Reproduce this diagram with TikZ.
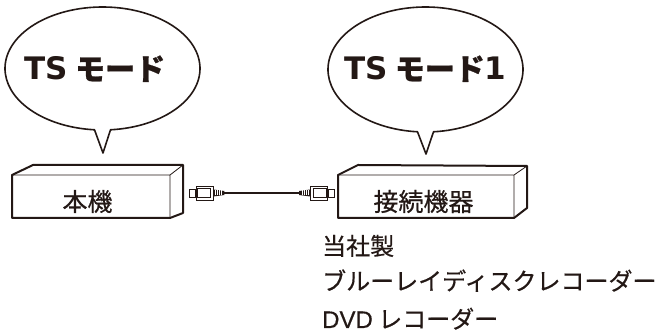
\documentclass[tikz,border=0pt]{standalone}
\usepackage{fontspec}
\setmainfont{Noto Sans CJK JP}
\newfontfamily\latinfont{Liberation Sans}[FakeBold=0.4]
\newfontfamily\heavyfont{DejaVu Sans}
\usepackage{tikz}
\usetikzlibrary{positioning,calc}
\definecolor{ink}{HTML}{231815}

\begin{document}
\begin{tikzpicture}[
    x=1pt, y=1pt,
    every node/.style={text=ink, inner sep=0pt},
    bubble/.style={draw=ink, line width=1.6pt, fill=white, line join=round},
    bubtext/.style={font=\fontsize{30}{36}\selectfont\bfseries\addfontfeature{FakeBold=0.8}, anchor=base},
    outline/.style={draw=ink, line width=2pt, line join=round},
    edge/.style={draw=ink, line width=0.8pt},
    label/.style={font=\fontsize{25}{30}\selectfont\addfontfeature{FakeBold=0.6}},
    note/.style={font=\fontsize{24}{30}\selectfont\addfontfeature{FakeBold=0.5}, anchor=base west},
    plug/.style={draw=ink, line width=0.9pt, fill=white, rectangle, minimum width=17pt, minimum height=14pt},
    stub/.style={draw=ink, line width=0.9pt, fill=white, rectangle, minimum width=6pt, minimum height=8pt},
    cable/.style={draw=ink, line width=1.6pt}
  ]
    \fill[white] (0,0) rectangle (665,334);
    \useasboundingbox (0,0) rectangle (665,334);

    % Speech bubbles
    \draw[bubble] (103,181) -- ($(102.5,265.5)+(274.71:97.5 and 61.5)$)
      arc[start angle=274.71, end angle=625.29, x radius=97.5, y radius=61.5] -- cycle;
    \draw[bubble] (426,180) -- ($(425.5,264.5)+(274.71:97.5 and 62.5)$)
      arc[start angle=274.71, end angle=625.29, x radius=97.5, y radius=62.5] -- cycle;
    \node[bubtext] (modeA) at (95,254) {{\heavyfont\bfseries\fontsize{31}{36}\selectfont TS} モード};
    \node[bubtext] (modeB) at (425.5,254) {{\heavyfont\bfseries\fontsize{31}{36}\selectfont TS} モード{\heavyfont\bfseries\fontsize{31}{36}\selectfont 1}};

    % Main unit (box drawn in perspective)
    \draw[outline] (12,116) -- (12,159) -- (33,169) -- (183,169) -- (183,121) -- (170,116) -- cycle;
    \draw[edge] (12,159) -- (170,159) -- (183,169) (170,159) -- (170,116);
    \node[label] (main) at (87.5,132.5) {本機};

    % Connected device
    \draw[outline] (338,116) -- (338,159) -- (358,169) -- (527,168) -- (527,126) -- (514,116) -- cycle;
    \draw[edge] (338,159) -- (514,159) -- (527,168) (514,159) -- (514,116);
    \node[label] (device) at (423.5,132.5) {接続機器};

    % Cable with plugs
    \node[plug] (plugL) at (204.5,141) {};
    \node[stub, left=0pt of plugL] (stubL) {};
    \node[plug] (plugR) at (319,141) {};
    \node[stub, right=0pt of plugR] (stubR) {};
    \draw[ink, line width=0.7pt] ([shift={(2pt,3pt)}]plugL.south west) rectangle ([shift={(-3pt,-3pt)}]plugL.north east);
    \draw[ink, line width=0.7pt] ([shift={(3pt,3pt)}]plugR.south west) rectangle ([shift={(-2pt,-3pt)}]plugR.north east);
    \coordinate (bootL) at ([xshift=11pt]plugL.east);
    \coordinate (bootR) at ([xshift=-11pt]plugR.west);
    \fill[ink] (plugL.east) ++(0,3.5) -- ([yshift=2pt]bootL) -- ([yshift=-2pt]bootL) -- ++(-11,-1.5) -- cycle;
    \fill[ink] (plugR.west) ++(0,3.5) -- ([yshift=2pt]bootR) -- ([yshift=-2pt]bootR) -- ++(11,-1.5) -- cycle;
    \foreach \i in {2,4,6,8} {
      \draw[white, line width=0.5pt] ([xshift=\i pt]plugL.east) ++(0,-2.5) -- ++(0,5);
      \draw[white, line width=0.5pt] ([xshift=-\i pt]plugR.west) ++(0,-2.5) -- ++(0,5);
    }
    \draw[cable] (bootL) -- (bootR);

    % Device list
    \node[note] (maker) at (322,79) {当社製};
    \node[note] (bdr) at (322,44) {ブルーレイディスクレコーダー};
    \node[note] (dvdr) at (322,6) {{\latinfont DVD} レコーダー};

  \end{tikzpicture}
\end{document}
